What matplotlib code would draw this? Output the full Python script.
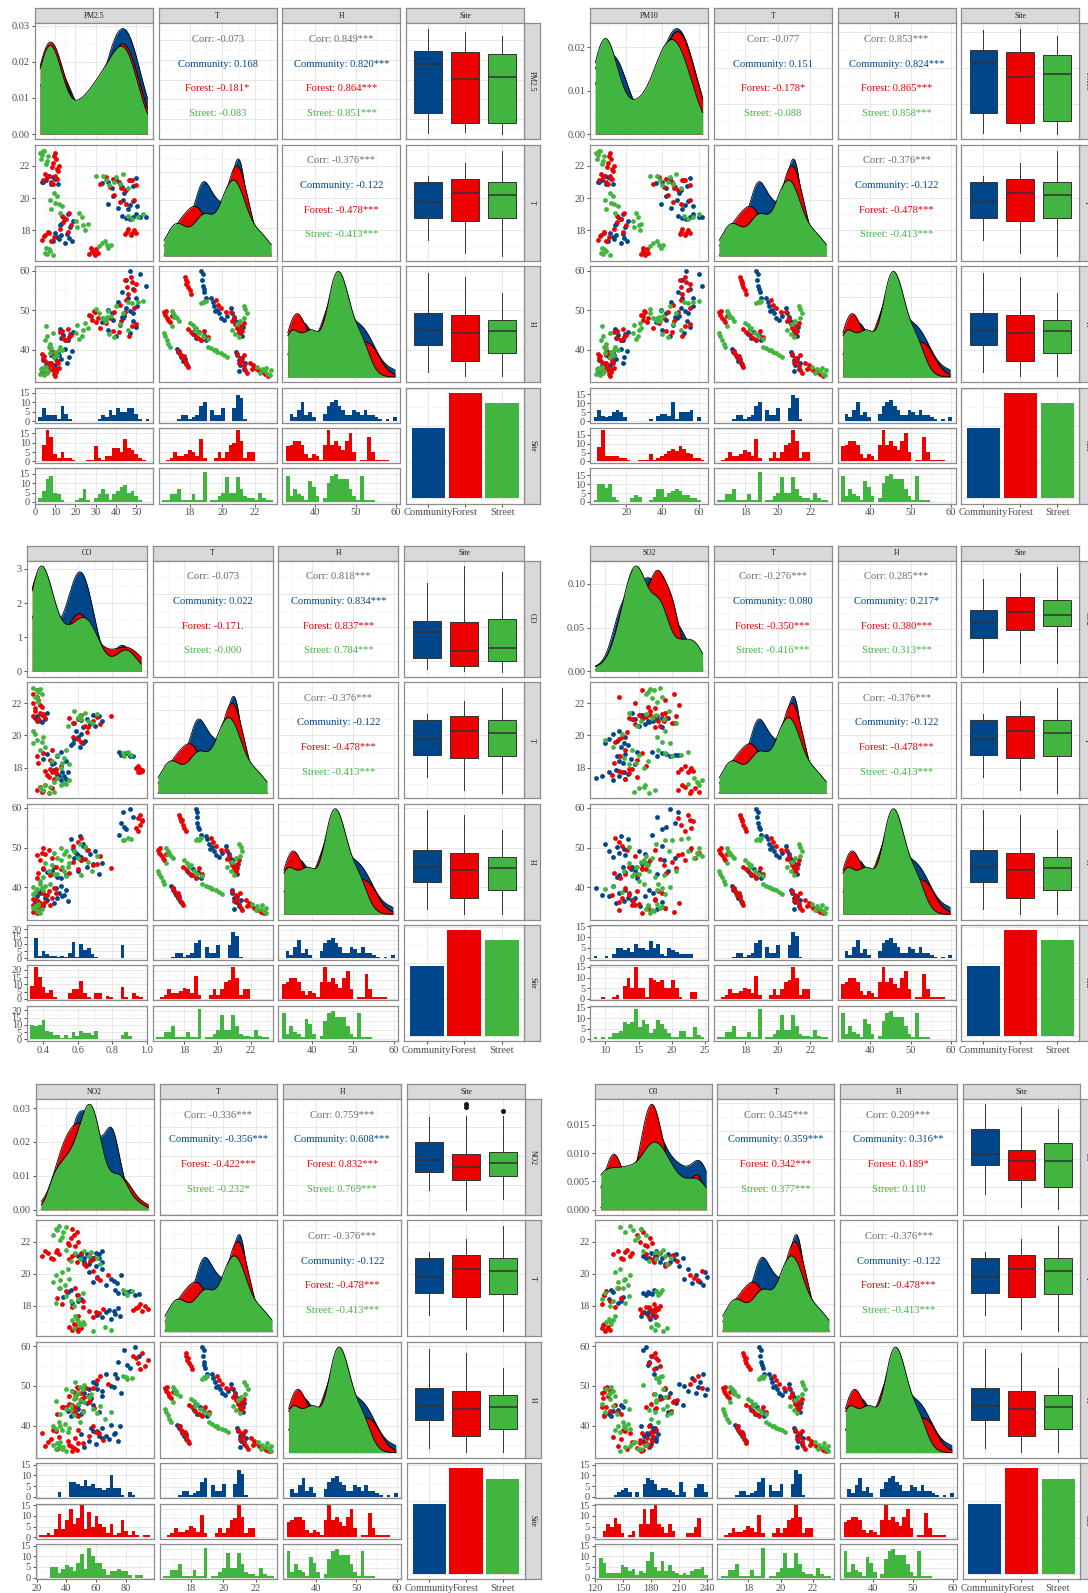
import numpy as np
import matplotlib
matplotlib.use("Agg")
import matplotlib.pyplot as plt
from matplotlib.ticker import MaxNLocator

plt.rcParams['font.family'] = ['Liberation Serif', 'DejaVu Serif']

W, H = 1088, 1593

sites = ["Community", "Forest", "Street"]
site_colors = ["#00468B", "#ED0000", "#42B540"]
site_counts = [96, 145, 131]

# ---- histogram counts, 30 bins over each variable's data range (Community, Forest, Street)
pm25_counts = [[2,7,3,3,3,1,8,4,1,0, 0,0,0,0,0,0,1,3,2,6, 3,7,5,5,7,7,4,1,0,1],
               [0,9,17,13,4,2,5,2,2,1, 0,0,0,1,1,8,2,1,3,3, 7,7,5,12,7,6,4,2,1,0],
               [2,6,12,14,5,4,1,0,0,0, 1,2,7,1,0,2,4,7,4,1, 4,6,8,9,5,6,3,1,0,0]]
pm10_counts = [[2,6,3,2,3,5,6,5,2,0, 0,0,0,0,0,1,0,3,4,4, 3,11,1,5,5,5,6,0,2,0],
               [0,8,18,3,3,3,3,2,2,1, 0,0,1,1,1,4,1,2,3,4, 6,7,6,9,7,5,4,2,2,1],
               [1,10,10,8,10,3,1,0,0,0, 2,4,3,0,0,1,3,7,7,3, 5,6,7,6,4,4,2,2,1,0]]
co_counts = [[0,14,2,5,3,2,2,1,2,1, 4,11,1,10,6,7,3,1,0,0, 0,0,0,0,9,0,0,0,0,0],
             [9,22,15,8,4,6,1,0,0,0, 4,7,7,12,4,1,0,4,4,0, 2,1,0,0,8,1,0,4,2,1],
             [10,9,10,13,6,5,3,3,1,3, 1,5,2,6,4,4,3,6,0,0, 0,0,0,0,3,5,2,0,0,0]]
so2_counts = [[1,0,0,1,0,2,5,5,4,5, 3,7,5,5,4,8,5,7,2,1, 5,4,3,2,2,2,2,0,0,0],
              [0,0,1,0,0,1,2,0,6,10, 5,15,5,5,1,10,9,8,9,5, 5,9,5,1,0,0,3,3,0,0],
              [1,0,1,0,1,3,3,4,8,7, 8,14,6,9,7,3,5,9,7,5, 3,1,1,4,4,1,1,6,2,1]]
no2_counts = [[0,0,0,0,0,2,0,0,7,7, 6,5,8,5,6,4,4,3,4,10, 4,4,1,0,2,1,0,0,0,0],
              [1,1,2,1,4,11,4,8,13,6, 9,15,4,12,5,10,6,5,2,6, 1,2,8,3,1,3,1,0,1,1],
              [0,0,0,5,5,2,4,6,5,3, 7,11,4,14,10,7,7,4,1,3, 3,4,3,3,1,0,1,1,0,0]]
o3_counts = [[0,0,0,0,1,2,3,4,2,0, 2,0,6,9,8,6,3,4,4,3, 2,1,7,2,0,0,4,6,6,2],
             [0,3,6,5,9,6,2,0,1,3, 0,6,13,6,13,15,6,5,2,6, 3,0,0,0,2,2,5,9,0,0],
             [9,7,2,2,2,2,6,5,3,4, 1,3,2,8,12,5,3,8,3,6, 3,2,1,2,1,3,4,4,5,1]]
t_counts = [[0,0,0,0,1,3,3,1,2,3, 8,10,0,6,3,3,7,0,0,7, 14,12,1,0,0,0,0,0,0,0],
            [0,1,2,5,3,3,4,6,5,3, 12,2,0,0,2,5,2,5,9,10, 17,11,2,5,5,0,0,0,0,0],
            [1,1,4,4,7,1,1,1,4,1, 1,16,0,1,1,3,5,13,5,5, 13,7,3,2,2,1,5,2,1,1]]
h_counts = [[0,4,2,6,10,3,5,2,0,0, 4,8,10,11,8,6,3,3,6,5, 3,6,3,3,2,1,0,1,0,2],
            [8,9,11,11,9,4,2,4,3,1, 9,17,9,11,8,6,11,15,5,0, 1,1,13,5,1,1,1,1,0,0],
            [14,3,7,4,3,1,11,8,3,0, 2,10,14,15,12,12,12,7,3,1, 14,1,1,1,0,0,0,0,0,0]]

# ---- boxplot five-number summaries (whisker low, Q1, median, Q3, whisker high)
pm25_box = [[3.3, 13.0, 37.6, 44.5, 55.2], [3.8, 8.0, 30.4, 43.6, 53.7], [2.8, 8.4, 31.4, 42.6, 52.0]]
pm10_box = [[3.7, 14.6, 43.0, 50.1, 61.4], [4.9, 9.0, 34.8, 49.0, 61.7], [3.0, 10.5, 36.7, 47.1, 58.0]]
co_box = [[0.349, 0.413, 0.570, 0.640, 0.865], [0.337, 0.369, 0.460, 0.630, 0.966], [0.333, 0.399, 0.474, 0.648, 0.932]]
so2_box = [[8.4, 13.6, 16.0, 18.0, 22.7], [9.7, 14.9, 17.6, 19.95, 23.6], [9.7, 15.4, 17.1, 19.5, 24.6]]
no2_box = [[36.7, 48.6, 57.3, 69.8, 86.3], [22.9, 43.3, 52.5, 61.4, 87.0], [30.3, 46.3, 55.4, 62.5, 87.0]]
no2_outliers = [[], [95.3, 93.6], [90.4]]
o3_box = [[142.3, 173.8, 185.6, 212.5, 239.4], [128.3, 158.0, 178.5, 189.9, 235.8], [126.5, 150.5, 178.5, 197.8, 233.7]]
t_box = [[17.41, 18.78, 19.78, 20.97, 21.36], [16.58, 18.58, 20.30, 21.18, 22.15], [16.41, 18.74, 20.18, 20.97, 22.95]]
h_box = [[34.4, 41.3, 45.0, 49.4, 59.4], [33.3, 37.3, 44.3, 48.75, 58.3], [33.3, 39.2, 44.8, 47.6, 54.4]]

# ---- observations for the scatter panels: (T, H, PM2.5, PM10, CO, SO2, NO2, O3)
community_obs = [
    (20.9, 38.6, 8.0, 9.0, 0.38, 17.2, 58, 184), (21.0, 37.4, 4.0, 5.0, 0.41, 14.5, 62, 175),
    (21.2, 37.9, 10.0, 11.5, 0.36, 16.0, 50, 188), (21.1, 36.2, 5.5, 6.5, 0.35, 18.5, 55, 172),
    (21.3, 35.3, 9.0, 10.0, 0.40, 15.2, 60, 180), (21.0, 34.6, 3.5, 4.5, 0.37, 17.8, 52, 178),
    (21.4, 36.8, 7.0, 8.5, 0.42, 14.0, 64, 186), (20.85, 39.4, 11.5, 12.5, 0.39, 16.6, 57, 182),
    (17.2, 40.2, 15.0, 17.0, 0.50, 11.2, 70, 179), (17.3, 39.4, 9.0, 10.0, 0.53, 13.0, 64, 184),
    (17.35, 39.8, 18.5, 20.5, 0.47, 8.5, 76, 170), (17.45, 38.6, 12.0, 13.5, 0.49, 12.0, 61, 182),
    (17.5, 38.1, 17.0, 19.0, 0.52, 9.5, 73, 176), (17.6, 37.3, 11.0, 12.5, 0.48, 13.4, 67, 173),
    (17.7, 37.8, 13.0, 14.5, 0.51, 10.5, 72, 178), (17.75, 36.6, 16.0, 18.0, 0.54, 12.8, 69, 181),
    (17.85, 36.1, 10.0, 11.0, 0.46, 11.6, 75, 186),
    (18.2, 44.0, 17.5, 19.5, 0.45, 14.5, 44, 145), (18.4, 43.0, 13.0, 14.5, 0.53, 12.0, 50, 135),
    (18.55, 44.6, 19.0, 21.0, 0.40, 13.8, 38, 150), (18.7, 42.6, 15.0, 17.0, 0.48, 11.8, 47, 130),
    (18.85, 43.8, 14.0, 15.5, 0.42, 13.0, 41, 140), (19.0, 42.4, 16.5, 18.5, 0.50, 14.8, 43, 138),
    (18.3, 45.2, 12.5, 14.0, 0.46, 12.6, 48, 148),
    (20.5, 50.5, 45.0, 50.0, 0.63, 18.5, 60, 210), (20.6, 49.2, 38.0, 42.0, 0.70, 15.0, 55, 195),
    (20.75, 47.4, 48.5, 53.5, 0.58, 20.5, 64, 190), (20.9, 46.2, 42.0, 46.0, 0.74, 16.5, 50, 205),
    (21.0, 45.1, 36.0, 40.0, 0.65, 14.0, 58, 214), (21.1, 44.2, 47.0, 52.0, 0.60, 19.5, 48, 185),
    (21.2, 43.4, 40.0, 44.0, 0.72, 17.8, 62, 198), (20.7, 48.3, 43.0, 47.0, 0.67, 16.0, 52, 200),
    (20.95, 47.0, 33.0, 36.5, 0.62, 18.9, 57, 192), (21.25, 45.8, 50.0, 55.0, 0.69, 15.6, 54, 207),
    (19.3, 53.0, 46.0, 51.0, 0.61, 12.4, 67, 236), (19.4, 52.1, 41.0, 45.0, 0.56, 13.4, 74, 224),
    (19.5, 51.0, 50.5, 57.0, 0.63, 10.0, 58, 232), (19.65, 50.1, 36.0, 39.0, 0.64, 11.8, 70, 215),
    (19.8, 49.2, 48.5, 54.0, 0.58, 10.6, 61, 240), (19.9, 48.1, 43.5, 48.0, 0.60, 13.0, 77, 228),
    (20.1, 47.6, 38.5, 42.0, 0.62, 11.2, 55, 238), (20.3, 48.6, 44.0, 49.0, 0.59, 12.0, 64, 220),
    (19.55, 49.7, 47.0, 52.5, 0.57, 12.8, 72, 230),
    (18.7, 59.8, 47.0, 53.0, 0.90, 19.8, 86, 175), (18.8, 59.1, 52.0, 60.0, 0.86, 21.0, 79, 172),
    (18.75, 57.6, 45.0, 51.0, 0.92, 17.8, 89, 181), (18.8, 56.1, 55.0, 62.0, 0.85, 20.5, 75, 178),
    (18.9, 54.6, 43.0, 48.5, 0.88, 18.6, 83, 186), (19.0, 53.1, 50.0, 57.0, 0.84, 17.0, 73, 183),
    (18.85, 55.3, 48.5, 55.0, 0.87, 19.2, 81, 177),
]
forest_obs = [
    (21.7, 36.8, 11.5, 12.5, 0.35, 17.5, 46, 176), (21.9, 36.1, 8.5, 9.5, 0.38, 21.2, 41, 181),
    (22.0, 35.5, 12.0, 13.0, 0.34, 14.4, 48, 168), (22.2, 34.8, 9.0, 10.0, 0.37, 19.0, 43, 179),
    (22.4, 34.3, 10.5, 11.5, 0.36, 12.1, 45, 165), (22.6, 33.8, 9.5, 10.5, 0.34, 20.3, 47, 172),
    (22.8, 33.5, 10.0, 11.0, 0.36, 15.5, 44, 170), (21.8, 35.2, 11.0, 12.0, 0.39, 16.4, 42, 174),
    (20.9, 39.0, 9.0, 10.0, 0.36, 18.0, 31, 150), (21.1, 38.0, 4.0, 5.0, 0.41, 13.6, 24, 158),
    (21.2, 37.1, 11.0, 12.0, 0.34, 17.5, 35, 140), (21.3, 35.9, 6.0, 7.0, 0.39, 15.0, 28, 160),
    (21.4, 34.8, 7.0, 8.0, 0.38, 19.0, 26, 145), (21.5, 34.2, 5.0, 6.0, 0.35, 16.8, 34, 155),
    (21.0, 36.6, 8.0, 9.0, 0.37, 14.2, 30, 148), (21.35, 38.6, 10.0, 11.0, 0.40, 18.6, 33, 152),
    (17.3, 39.8, 8.0, 9.0, 0.46, 13.0, 58, 178), (17.4, 39.0, 3.5, 4.5, 0.43, 14.8, 48, 186),
    (17.55, 38.1, 9.5, 10.5, 0.42, 11.0, 62, 171), (17.7, 37.3, 5.0, 6.0, 0.45, 12.5, 55, 182),
    (17.8, 36.4, 7.0, 8.0, 0.41, 12.0, 65, 168), (17.9, 35.6, 6.5, 7.5, 0.44, 14.0, 51, 175),
    (17.65, 38.5, 4.5, 5.5, 0.47, 13.6, 60, 180),
    (17.9, 45.2, 16.5, 18.0, 0.47, 13.5, 44, 142), (18.1, 44.6, 12.5, 13.5, 0.50, 16.2, 37, 128),
    (18.3, 43.7, 18.0, 20.0, 0.37, 11.3, 51, 137), (18.5, 43.0, 14.0, 15.0, 0.44, 14.8, 34, 148),
    (18.7, 42.4, 15.5, 17.0, 0.36, 12.2, 48, 130), (18.9, 44.8, 13.5, 15.0, 0.40, 15.5, 40, 132),
    (19.1, 43.3, 17.0, 19.0, 0.45, 13.0, 46, 145),
    (16.45, 49.5, 29.5, 30.5, 0.43, 22.8, 48, 131), (16.5, 48.7, 26.5, 28.0, 0.39, 24.2, 44, 137),
    (16.6, 48.1, 31.0, 32.0, 0.36, 21.0, 50, 128), (16.7, 47.5, 28.0, 29.5, 0.45, 23.5, 42, 134),
    (16.8, 47.0, 30.0, 31.5, 0.38, 22.0, 46, 129), (16.9, 48.5, 27.5, 29.0, 0.41, 21.6, 45, 130),
    (16.55, 49.8, 29.0, 30.0, 0.40, 23.0, 47, 133),
    (20.5, 49.5, 44.5, 48.5, 0.66, 17.5, 53, 195), (20.7, 48.0, 37.0, 41.0, 0.73, 14.5, 47, 183),
    (20.8, 46.5, 50.0, 55.0, 0.57, 20.0, 56, 208), (20.9, 45.5, 32.0, 35.0, 0.69, 18.8, 42, 180),
    (21.0, 44.5, 41.5, 45.5, 0.60, 15.5, 59, 186), (21.1, 43.6, 46.5, 51.0, 0.55, 19.2, 44, 201),
    (21.3, 46.8, 35.0, 38.0, 0.62, 16.8, 50, 190), (21.2, 44.8, 38.5, 42.0, 0.79, 20.7, 46, 175),
    (20.6, 47.2, 42.5, 46.5, 0.64, 18.2, 52, 198), (21.15, 45.9, 48.0, 52.5, 0.71, 16.2, 55, 204),
    (19.6, 52.5, 45.0, 50.0, 0.62, 11.5, 63, 230), (19.9, 50.5, 49.0, 55.0, 0.57, 12.5, 68, 222),
    (20.2, 49.5, 39.0, 43.0, 0.65, 13.2, 58, 235), (19.75, 51.4, 42.0, 46.0, 0.60, 12.0, 61, 226),
    (17.7, 58.3, 47.5, 52.5, 0.96, 22.5, 91, 185), (17.75, 57.5, 44.5, 49.5, 0.95, 21.0, 85, 180),
    (17.8, 56.6, 50.0, 55.5, 0.97, 23.3, 95, 188), (17.9, 55.8, 45.5, 50.5, 0.96, 21.5, 88, 178),
    (18.0, 55.0, 49.0, 54.0, 0.94, 23.0, 93, 190), (18.1, 54.2, 46.0, 51.0, 0.95, 22.0, 90, 183),
    (17.85, 57.0, 48.0, 53.0, 0.97, 22.8, 87, 186),
]
street_obs = [
    (22.1, 35.8, 5.5, 6.5, 0.37, 17.8, 36, 163), (22.4, 35.2, 3.0, 4.0, 0.35, 18.6, 31, 175),
    (22.6, 34.6, 6.5, 7.5, 0.39, 16.2, 38, 152), (22.8, 34.0, 2.8, 3.5, 0.36, 17.3, 33, 170),
    (22.9, 33.6, 4.5, 5.5, 0.38, 16.8, 40, 147), (22.95, 34.8, 4.0, 5.0, 0.34, 18.3, 35, 158),
    (22.3, 34.2, 6.0, 7.0, 0.36, 17.0, 37, 166), (22.7, 35.5, 3.5, 4.5, 0.37, 16.5, 34, 161),
    (19.1, 40.8, 12.5, 14.0, 0.38, 18.0, 35, 150), (19.3, 40.4, 8.0, 9.0, 0.41, 11.2, 39, 156),
    (19.5, 40.0, 13.5, 15.5, 0.34, 19.8, 31, 145), (19.7, 39.5, 10.0, 11.5, 0.36, 10.0, 42, 153),
    (19.9, 39.2, 7.5, 8.5, 0.40, 17.8, 33, 158), (20.1, 38.8, 11.0, 12.5, 0.35, 12.5, 37, 142),
    (20.3, 38.3, 9.5, 11.0, 0.34, 19.0, 41, 147), (19.6, 39.9, 12.0, 13.5, 0.39, 18.6, 36, 151),
    (16.45, 44.2, 9.0, 11.0, 0.43, 16.6, 58, 193), (16.5, 43.4, 6.0, 7.0, 0.46, 14.3, 70, 184),
    (16.6, 42.6, 5.0, 5.8, 0.40, 17.5, 45, 197), (16.7, 41.6, 7.5, 9.0, 0.38, 15.0, 66, 180),
    (16.8, 40.8, 6.8, 8.0, 0.44, 15.8, 49, 188), (16.9, 46.0, 5.5, 6.5, 0.41, 16.0, 52, 186),
    (18.0, 46.8, 25.0, 27.5, 0.50, 15.8, 45, 136), (18.2, 46.2, 21.0, 24.5, 0.55, 13.5, 33, 152),
    (18.4, 45.5, 26.0, 28.0, 0.45, 16.5, 48, 128), (18.6, 44.2, 20.5, 24.0, 0.52, 12.8, 40, 157),
    (18.8, 43.4, 23.5, 26.5, 0.48, 15.0, 51, 131), (19.1, 42.8, 22.0, 25.5, 0.53, 14.0, 36, 144),
    (18.3, 45.0, 24.0, 27.0, 0.51, 14.6, 43, 140),
    (16.9, 49.8, 36.0, 39.0, 0.50, 24.2, 49, 138), (17.0, 49.2, 31.5, 33.0, 0.53, 22.5, 51, 132),
    (17.1, 48.6, 37.5, 40.5, 0.46, 23.8, 44, 140), (17.2, 48.0, 33.0, 35.0, 0.55, 24.6, 47, 135),
    (17.35, 47.4, 34.5, 37.0, 0.48, 23.4, 46, 142), (17.05, 48.3, 35.5, 38.0, 0.52, 24.0, 48, 136),
    (21.3, 51.0, 40.0, 44.0, 0.61, 17.6, 46, 189), (21.4, 50.2, 30.0, 33.0, 0.64, 13.5, 52, 172),
    (21.5, 49.2, 43.5, 47.5, 0.58, 19.6, 40, 193), (21.35, 48.0, 33.5, 37.0, 0.71, 16.2, 57, 184),
    (20.6, 45.0, 46.0, 50.5, 0.54, 14.8, 63, 197), (20.8, 44.0, 36.5, 40.0, 0.68, 20.6, 43, 178),
    (21.0, 43.2, 39.0, 43.0, 0.62, 18.8, 61, 202), (20.9, 46.4, 42.0, 46.0, 0.66, 15.4, 49, 186),
    (21.1, 47.3, 35.0, 38.5, 0.60, 17.0, 55, 195),
    (18.8, 52.2, 51.0, 57.0, 0.91, 21.5, 80, 190), (18.9, 52.0, 46.0, 52.0, 0.86, 19.0, 84, 186),
    (19.0, 52.4, 53.5, 60.0, 0.89, 22.5, 78, 192), (18.7, 51.8, 48.0, 54.0, 0.87, 20.0, 81, 188),
]

# ---- correlation labels
corr_T = {
    "PM2.5": ["Corr: -0.073", "Community: 0.168", "Forest: -0.181*", "Street: -0.083"],
    "PM10": ["Corr: -0.077", "Community: 0.151", "Forest: -0.178*", "Street: -0.088"],
    "CO": ["Corr: -0.073", "Community: 0.022", "Forest: -0.171.", "Street: -0.000"],
    "SO2": ["Corr: -0.276***", "Community: 0.080", "Forest: -0.350***", "Street: -0.416***"],
    "NO2": ["Corr: -0.336***", "Community: -0.356***", "Forest: -0.422***", "Street: -0.232*"],
    "O3": ["Corr: 0.345***", "Community: 0.359***", "Forest: 0.342***", "Street: 0.377***"],
}
corr_H = {
    "PM2.5": ["Corr: 0.849***", "Community: 0.820***", "Forest: 0.864***", "Street: 0.851***"],
    "PM10": ["Corr: 0.853***", "Community: 0.824***", "Forest: 0.865***", "Street: 0.858***"],
    "CO": ["Corr: 0.818***", "Community: 0.834***", "Forest: 0.837***", "Street: 0.784***"],
    "SO2": ["Corr: 0.285***", "Community: 0.217*", "Forest: 0.380***", "Street: 0.313***"],
    "NO2": ["Corr: 0.759***", "Community: 0.608***", "Forest: 0.832***", "Street: 0.769***"],
    "O3": ["Corr: 0.209***", "Community: 0.316**", "Forest: 0.189*", "Street: 0.110"],
}
corr_TH = ["Corr: -0.376***", "Community: -0.122", "Forest: -0.478***", "Street: -0.413***"]

# ---- variable scales
obs_cols = ["T", "H", "PM2.5", "PM10", "CO", "SO2", "NO2", "O3"]
var_span = {"T": (16.43, 22.99), "H": (33.2, 59.8), "PM2.5": (2.65, 55.55), "PM10": (2.96, 62.2),
            "CO": (0.335, 0.968), "SO2": (8.47, 24.7), "NO2": (23.1, 95.3), "O3": (126.7, 239.1)}
var_breaks = {"T": [18, 20, 22], "H": [40, 50, 60], "PM2.5": [0, 10, 20, 30, 40, 50],
              "PM10": [20, 40, 60], "CO": [0.4, 0.6, 0.8, 1.0], "SO2": [10, 15, 20, 25],
              "NO2": [20, 40, 60, 80], "O3": [120, 150, 180, 210, 240]}
dens_breaks = {"PM2.5": ([0, 0.01, 0.02, 0.03], "{:.2f}"), "PM10": ([0, 0.01, 0.02], "{:.2f}"),
               "CO": ([0, 1, 2, 3], "{:.0f}"), "SO2": ([0, 0.05, 0.10], "{:.2f}"),
               "NO2": ([0, 0.01, 0.02, 0.03], "{:.2f}"), "O3": ([0, 0.005, 0.010, 0.015], "{:.3f}")}
hist_data = {"PM2.5": pm25_counts, "PM10": pm10_counts, "CO": co_counts, "SO2": so2_counts,
             "NO2": no2_counts, "O3": o3_counts, "T": t_counts, "H": h_counts}
box_data = {"PM2.5": pm25_box, "PM10": pm10_box, "CO": co_box, "SO2": so2_box,
            "NO2": no2_box, "O3": o3_box, "T": t_box, "H": h_box}

obs = [np.array(community_obs), np.array(forest_obs), np.array(street_obs)]

BORDER = "#8c8c8c"
STRIP_FILL = "#d9d9d9"
GRID_MAJ = "#e4e4e4"
GRID_MIN = "#f1f1f1"
TICK_TXT = "#4d4d4d"
FS_TICK = 7.5
FS_CORR = 7.6
FS_STRIP = 5.5

GAP_X = 5.8
STRIP = 15.0
ROW_H = 116.0
ROW_STEP = 121.4
SUB_GAP = 5.3

fig = plt.figure(figsize=(W / 100, H / 100), dpi=100)


def px_axes(x, y, w, h):
    return fig.add_axes([x / W, 1 - (y + h) / H, w / W, h / H])


def lims(v):
    a, b = var_span[v]
    r = b - a
    return a - 0.05 * r, b + 0.05 * r


def minors(major, lim):
    step = major[1] - major[0]
    c = np.arange(major[0] - step / 2, major[-1] + step, step)
    return [m for m in c if lim[0] <= m <= lim[1]]


def fmt_val(v, x):
    return "{:.1f}".format(x) if v == "CO" else "{:g}".format(x)


def style(ax, xlim, ylim, xmaj, ymaj, xmin=(), ymin=()):
    ax.set_xlim(*xlim)
    ax.set_ylim(*ylim)
    ax.set_xticks(xmaj)
    ax.set_yticks(ymaj)
    ax.set_xticks(list(xmin), minor=True)
    ax.set_yticks(list(ymin), minor=True)
    ax.set_axisbelow(True)
    ax.grid(which="major", color=GRID_MAJ, lw=0.6)
    ax.grid(which="minor", color=GRID_MIN, lw=0.4)
    ax.tick_params(which="both", length=0, labelbottom=False, labelleft=False)
    for sp in ax.spines.values():
        sp.set_color(BORDER)
        sp.set_linewidth(0.9)


def label_left(ax, ticks, labels):
    ax.set_yticks(ticks)
    ax.set_yticklabels(labels)
    ax.tick_params(axis="y", which="major", length=2.5, width=0.6, color="#333333",
                   labelleft=True, labelsize=FS_TICK, labelcolor=TICK_TXT, pad=1)


def label_bottom(ax, ticks, labels):
    ax.set_xticks(ticks)
    ax.set_xticklabels(labels)
    ax.tick_params(axis="x", which="major", length=2.5, width=0.6, color="#333333",
                   labelbottom=True, labelsize=FS_TICK, labelcolor=TICK_TXT, pad=1)


def strip(ax, text, rot=0):
    ax.set_facecolor(STRIP_FILL)
    ax.set_xticks([])
    ax.set_yticks([])
    for sp in ax.spines.values():
        sp.set_color(BORDER)
        sp.set_linewidth(0.9)
    ax.text(0.5, 0.5, text, transform=ax.transAxes, ha="center", va="center",
            rotation=rot, fontsize=FS_STRIP, color="#1a1a1a")


def kde(data, grid):
    n = len(data)
    sd = data.std(ddof=1)
    iqr = np.subtract(*np.percentile(data, [75, 25]))
    bw = 0.9 * min(sd, iqr / 1.34) * n ** -0.2
    z = (grid[:, None] - data[None, :]) / bw
    return np.exp(-0.5 * z ** 2).sum(axis=1) / (n * bw * np.sqrt(2 * np.pi))


def bins_of(v):
    a, b = var_span[v]
    return np.linspace(a, b, 30), (b - a) / 29


def draw_matrix(x_left, x_right, y_top, pol):
    cols = [pol, "T", "H"]
    col_w = (x_right - x_left - 3 * GAP_X) / 4
    cx = [x_left + i * (col_w + GAP_X) for i in range(4)]
    ry = [y_top + STRIP + i * ROW_STEP for i in range(4)]

    for i, lab in enumerate(cols + ["Site"]):
        strip(px_axes(cx[i], y_top, col_w, STRIP), lab)
        strip(px_axes(x_right, ry[i], STRIP + 1, ROW_H), lab, rot=270)

    for r in range(3):
        for c in range(3):
            ax = px_axes(cx[c], ry[r], col_w, ROW_H)
            xv, yv = cols[c], cols[r]
            xl = lims(xv)
            if r == c:
                centers, _ = bins_of(xv)
                grid = np.linspace(var_span[xv][0], var_span[xv][1], 400)
                dens = []
                for k in range(3):
                    d = np.repeat(centers, hist_data[xv][k])
                    dens.append(kde(d, grid))
                m = max(d.max() for d in dens)
                yl = (-0.05 * m, 1.05 * m)
                if c == 0:
                    ymaj, yfmt = dens_breaks[pol]
                else:
                    ymaj = list(MaxNLocator(4).tick_values(0, m))
                    yfmt = "{:g}"
                style(ax, xl, yl, var_breaks[xv], ymaj,
                      minors(var_breaks[xv], xl), minors(ymaj, yl))
                for k in range(3):
                    ax.fill_between(grid, 0, dens[k], color=site_colors[k], lw=0, zorder=2 + k)
                    ax.plot(grid, dens[k], color="black", lw=0.6, zorder=2 + k)
                if c == 0:
                    label_left(ax, ymaj, [yfmt.format(t) for t in ymaj])
            elif r < c:
                yl = lims(yv)
                style(ax, xl, yl, var_breaks[xv], var_breaks[yv],
                      minors(var_breaks[xv], xl), minors(var_breaks[yv], yl))
                texts = corr_TH if (yv == "T" and xv == "H") else (corr_T[pol] if xv == "T" else corr_H[pol])
                tcolors = ["#6b6b6b"] + site_colors
                for txt, col, yy in zip(texts, tcolors, [0.862, 0.649, 0.437, 0.224]):
                    ax.text(0.5, yy, txt, transform=ax.transAxes, ha="center", va="center",
                            color=col, fontsize=FS_CORR)
            else:
                yl = lims(yv)
                style(ax, xl, yl, var_breaks[xv], var_breaks[yv],
                      minors(var_breaks[xv], xl), minors(var_breaks[yv], yl))
                ix, iy = obs_cols.index(xv), obs_cols.index(yv)
                for k in range(3):
                    ax.scatter(obs[k][:, ix], obs[k][:, iy], s=12, color=site_colors[k],
                               linewidths=0, zorder=3)
                if c == 0:
                    label_left(ax, var_breaks[yv], [fmt_val(yv, t) for t in var_breaks[yv]])

        # boxplot column
        yv = cols[r]
        yl = lims(yv)
        ax = px_axes(cx[3], ry[r], col_w, ROW_H)
        style(ax, (0.4, 3.6), yl, [1, 2, 3], var_breaks[yv], (), minors(var_breaks[yv], yl))
        stats = []
        for k in range(3):
            lo, q1, med, q3, hi = box_data[yv][k]
            fl = no2_outliers[k] if yv == "NO2" else []
            stats.append(dict(whislo=lo, q1=q1, med=med, q3=q3, whishi=hi, fliers=fl))
        bp = ax.bxp(stats, positions=[1, 2, 3], widths=0.75, patch_artist=True, showcaps=False,
                    boxprops=dict(edgecolor="#333333", linewidth=0.7),
                    medianprops=dict(color="#333333", linewidth=1.1),
                    whiskerprops=dict(color="#333333", linewidth=0.7),
                    flierprops=dict(marker="o", markersize=2.6, markerfacecolor="#1a1a1a",
                                    markeredgecolor="#1a1a1a"),
                    manage_ticks=False)
        for patch, col in zip(bp["boxes"], site_colors):
            patch.set_facecolor(col)

    # histogram row
    sub_h = (ROW_H - 2 * SUB_GAP) / 3
    for c in range(3):
        v = cols[c]
        xl = lims(v)
        centers, wbin = bins_of(v)
        m = max(max(cnt) for cnt in hist_data[v])
        yl = (-0.05 * m, 1.05 * m)
        ymaj = [t for t in range(0, 30, 5) if t <= yl[1]]
        for k in range(3):
            ax = px_axes(cx[c], ry[3] + k * (sub_h + SUB_GAP), col_w, sub_h)
            style(ax, xl, yl, var_breaks[v], ymaj, minors(var_breaks[v], xl), minors(ymaj, yl))
            ax.bar(centers, hist_data[v][k], width=wbin, color=site_colors[k], lw=0, zorder=2)
            if c == 0:
                label_left(ax, ymaj, [str(t) for t in ymaj])
            if k == 2:
                label_bottom(ax, var_breaks[v], [fmt_val(v, t) for t in var_breaks[v]])

    # bar panel
    ax = px_axes(cx[3], ry[3], col_w, ROW_H)
    m = max(site_counts)
    yl = (-0.05 * m, 1.05 * m)
    style(ax, (0.4, 3.6), yl, [1, 2, 3], [0, 50, 100, 150], (), [25, 75, 125])
    ax.bar([1, 2, 3], site_counts, width=0.9, color=site_colors, lw=0, zorder=2)
    label_bottom(ax, [1, 2, 3], sites)


draw_matrix(34.8, 524.2, 8.3, "PM2.5")
draw_matrix(590.0, 1079.3, 8.3, "PM10")
draw_matrix(26.8, 524.2, 545.7, "CO")
draw_matrix(590.0, 1079.3, 545.7, "SO2")
draw_matrix(35.8, 524.9, 1084.0, "NO2")
draw_matrix(594.5, 1080.0, 1084.0, "O3")

fig.savefig("out.png", dpi=100, facecolor="white")
